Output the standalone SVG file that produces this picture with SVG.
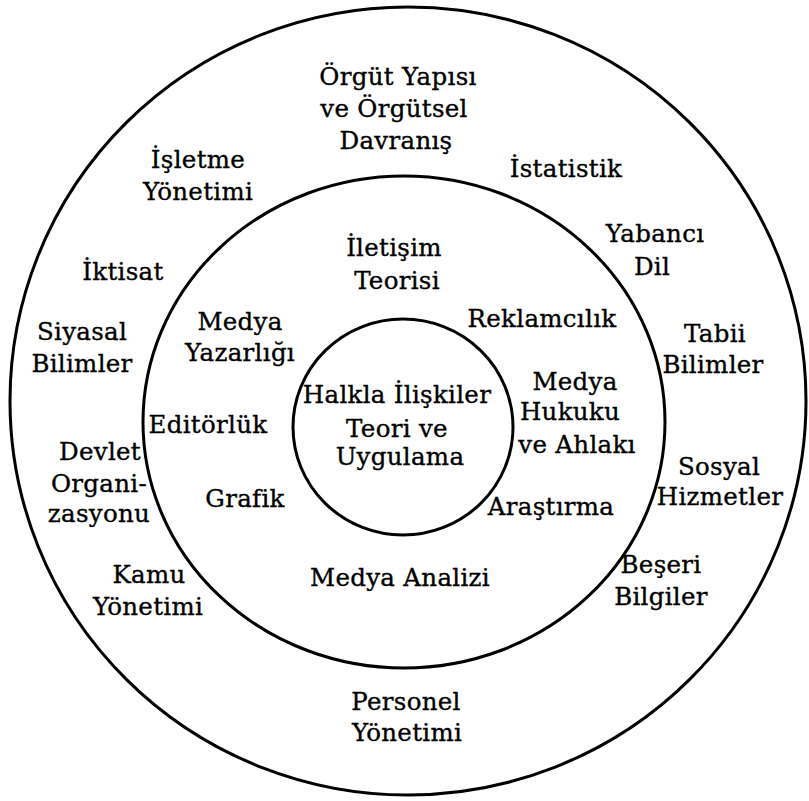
<svg xmlns="http://www.w3.org/2000/svg" width="809" height="801" viewBox="0 0 809 801">
<style>
.ring{fill:none;stroke:#000;stroke-width:3}
text{font-family:"DejaVu Serif","Liberation Serif",serif;font-size:24.5px;fill:#000;stroke:#000;stroke-width:0.35;text-anchor:middle;letter-spacing:0.3px}
</style>
<rect width="809" height="801" fill="#fff"/>
<g id="rings">
<ellipse id="outer" class="ring" cx="408" cy="401" rx="398" ry="394"/>
<ellipse id="middle" class="ring" cx="404" cy="422" rx="261" ry="246"/>
<ellipse id="inner" class="ring" cx="403" cy="427" rx="110" ry="108"/>
</g>
<g id="core"><text x="397" y="403">Halkla İlişkiler</text><text x="397" y="437">Teori ve</text><text x="400" y="465">Uygulama</text></g>
<g id="iletisim"><text x="394" y="256">İletişim</text><text x="397" y="289">Teorisi</text></g>
<g id="medya-yazarligi"><text x="240" y="330">Medya</text><text x="240" y="361">Yazarlığı</text></g>
<g id="reklamcilik"><text x="542" y="327">Reklamcılık</text></g>
<g id="medya-hukuku"><text x="575" y="390">Medya</text><text x="570" y="420">Hukuku</text><text x="577" y="453">ve Ahlakı</text></g>
<g id="editorluk"><text x="208" y="433">Editörlük</text></g>
<g id="grafik"><text x="245" y="507">Grafik</text></g>
<g id="arastirma"><text x="551" y="515">Araştırma</text></g>
<g id="medya-analizi"><text x="400" y="586">Medya Analizi</text></g>
<g id="orgut"><text x="398" y="85">Örgüt Yapısı</text><text x="394" y="117">ve Örgütsel</text><text x="396" y="149">Davranış</text></g>
<g id="isletme"><text x="198" y="168">İşletme</text><text x="198" y="200">Yönetimi</text></g>
<g id="istatistik"><text x="566" y="177">İstatistik</text></g>
<g id="yabanci-dil"><text x="655" y="242">Yabancı</text><text x="652" y="275">Dil</text></g>
<g id="iktisat"><text x="123" y="280">İktisat</text></g>
<g id="siyasal"><text x="82" y="340">Siyasal</text><text x="82" y="372">Bilimler</text></g>
<g id="tabii"><text x="715" y="342">Tabii</text><text x="713" y="373">Bilimler</text></g>
<g id="devlet"><text x="100" y="460">Devlet</text><text x="99" y="492">Organi-</text><text x="99" y="522">zasyonu</text></g>
<g id="sosyal"><text x="719" y="475">Sosyal</text><text x="720" y="505">Hizmetler</text></g>
<g id="kamu"><text x="149" y="583">Kamu</text><text x="148" y="615">Yönetimi</text></g>
<g id="beseri"><text x="661" y="573">Beşeri</text><text x="661" y="605">Bilgiler</text></g>
<g id="personel"><text x="406" y="710">Personel</text><text x="407" y="741">Yönetimi</text></g>
</svg>
